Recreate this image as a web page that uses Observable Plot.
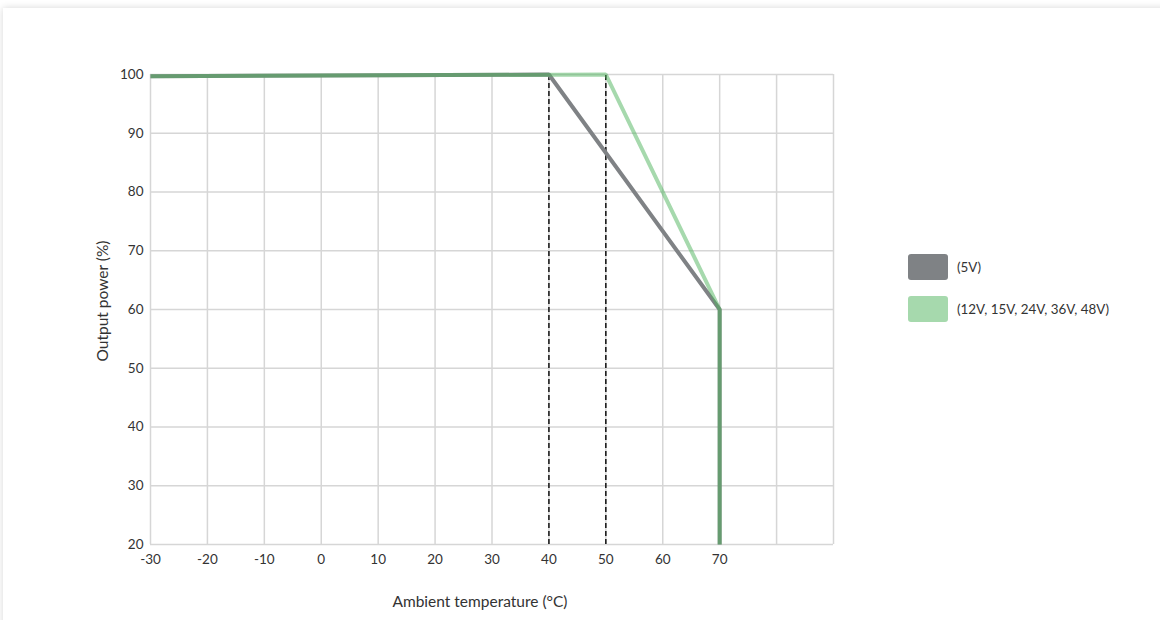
<!DOCTYPE html>
<html>
<head>
<meta charset="utf-8">
<script src="https://cdn.jsdelivr.net/npm/d3@7"></script>
<script src="https://cdn.jsdelivr.net/npm/@observablehq/plot@0.6"></script>
<style>
  html, body { margin: 0; padding: 0; background: #fff; width: 1160px; height: 620px; overflow: hidden; font-family: Lato, "Open Sans", sans-serif; }
  #card { position: absolute; left: 3px; top: 8px; width: 1170px; height: 640px; background: #fff; box-shadow: 0 0 7px rgba(0,0,0,0.16); }
  #chart { position: absolute; left: 0; top: 0; }
  .lab { position: absolute; font-size: 15.5px; color: #333; white-space: nowrap; }
  #ylab { left: 102px; top: 301px; transform: translate(-50%, -50%) rotate(-90deg); }
  #xlab { left: 480px; top: 601px; transform: translate(-50%, -50%); }
  .leg { position: absolute; display: flex; align-items: center; font-size: 13.4px; color: #333; }
  .sw { width: 40px; height: 26px; border-radius: 3px; margin-right: 9px; box-sizing: border-box; }
</style>
</head>
<body>
<div id="card"></div>
<div id="chart"></div>
<div class="lab" id="ylab">Output power (%)</div>
<div class="lab" id="xlab">Ambient temperature (°C)</div>
<div id="legend"></div>
<script>
// Data
const seriesNames = ["(5V)", "(12V, 15V, 24V, 36V, 48V)"];
const temp5V = [-30, 40, 70, 70];
const power5V = [99.7, 100, 60, 20];
const tempHV = [-30, 50, 70, 70];
const powerHV = [99.7, 100, 60, 20];
const deratingPoints = [40, 50];
const xTicks = [-30, -20, -10, 0, 10, 20, 30, 40, 50, 60, 70];
const xGrid = [-30, -20, -10, 0, 10, 20, 30, 40, 50, 60, 70, 80, 90];
const yTicks = [20, 30, 40, 50, 60, 70, 80, 90, 100];

const seriesColors = ["#7f8285", "#4db35b"];
const seriesOpacity = [1, 0.5];
const legendColors = ["#7f8285", "#a6d9ad"];

const line5V = temp5V.map((t, i) => ({t, p: power5V[i]}));
const lineHV = tempHV.map((t, i) => ({t, p: powerHV[i]}));

const chart = Plot.plot({
  width: 1160,
  height: 620,
  marginLeft: 150,
  marginTop: 74,
  marginRight: 327,
  marginBottom: 76,
  style: {fontFamily: "Lato, 'Open Sans', sans-serif", fontSize: "13.5px", color: "#333", background: "transparent"},
  x: {domain: [-30, 90], label: null},
  y: {domain: [20, 100], label: null},
  marks: [
    Plot.gridX(xGrid, {stroke: "#d6d6d6", strokeOpacity: 1, strokeWidth: 1.5}),
    Plot.gridY(yTicks, {stroke: "#d6d6d6", strokeOpacity: 1, strokeWidth: 1.5}),
    Plot.axisX({ticks: xTicks, tickSize: 0, tickPadding: 10, label: null, fontSize: 13.5, tickFormat: d => String(d)}),
    Plot.axisY({ticks: yTicks, tickSize: 0, tickPadding: 7, label: null, fontSize: 13.5, tickFormat: d => String(d)}),
    Plot.ruleX(deratingPoints, {y1: 20, y2: 100, stroke: "#111", strokeWidth: 1.5, strokeDasharray: "5,3"}),
    Plot.line(line5V, {x: "t", y: "p", stroke: seriesColors[0], strokeOpacity: seriesOpacity[0], strokeWidth: 4, strokeLinejoin: "miter", strokeLinecap: "butt"}),
    Plot.line(lineHV, {x: "t", y: "p", stroke: seriesColors[1], strokeOpacity: seriesOpacity[1], strokeWidth: 4, strokeLinejoin: "miter", strokeLinecap: "butt"})
  ]
});
document.getElementById("chart").appendChild(chart);

const legend = document.getElementById("legend");
seriesNames.forEach((name, i) => {
  const item = document.createElement("div");
  item.className = "leg";
  item.style.left = "908px";
  item.style.top = (254 + i * 42) + "px";
  const sw = document.createElement("div");
  sw.className = "sw";
  sw.style.background = legendColors[i];
  item.appendChild(sw);
  const tx = document.createElement("span");
  tx.textContent = name;
  item.appendChild(tx);
  legend.appendChild(item);
});
</script>
</body>
</html>
